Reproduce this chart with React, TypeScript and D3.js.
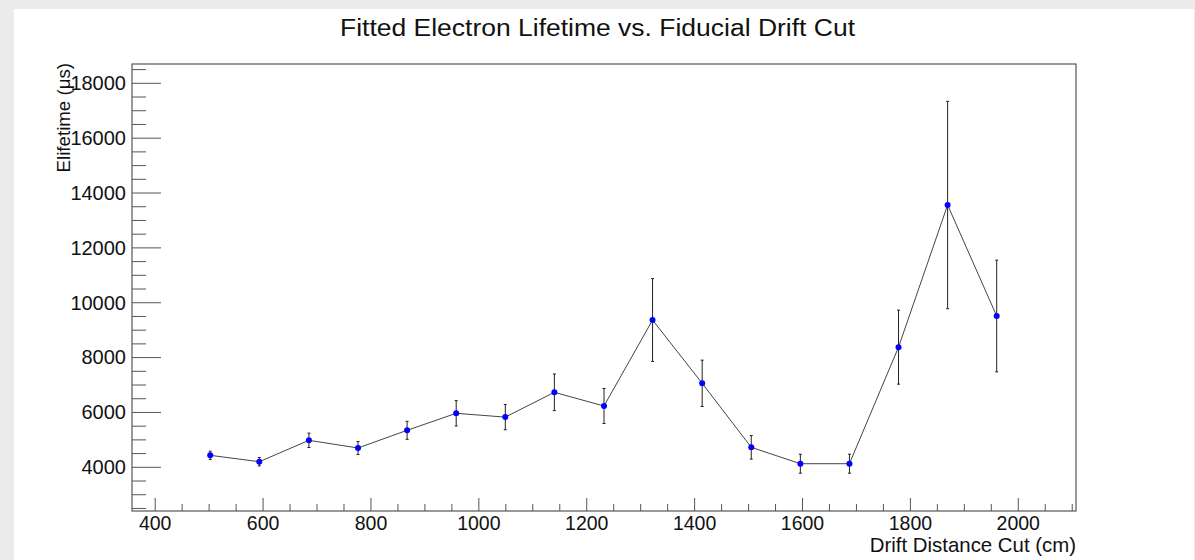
import React from "react";
import * as d3 from "d3";

// Drift distance cut (cm), fitted lifetime (us) and its fit uncertainty
const cuts = [502, 593, 685, 776, 867, 958, 1049, 1140, 1232, 1322, 1414, 1505, 1596, 1687, 1778, 1869, 1960];
const lifetimes = [4437, 4204, 4984, 4704, 5349, 5969, 5830, 6734, 6235, 9370, 7062, 4729, 4131, 4131, 8380, 13563, 9516];
const errors = [150, 153, 262, 237, 328, 462, 460, 668, 638, 1510, 845, 430, 346, 346, 1349, 3780, 2036];

const xMajorTicks = [400, 600, 800, 1000, 1200, 1400, 1600, 1800, 2000];
const yMajorTicks = [4000, 6000, 8000, 10000, 12000, 14000, 16000, 18000];

const title = "Fitted Electron Lifetime vs. Fiducial Drift Cut";
const xTitle = "Drift Distance Cut (cm)";
const yTitle = "Elifetime (\u03bcs)";

const W = 1195;
const H = 560;
const frame = { left: 132, right: 1076, top: 64, bottom: 511 };
const FONT = "'Liberation Sans', Arial, Helvetica, sans-serif";
const AXIS = "#555";

export default function App() {
  const x = d3.scaleLinear().domain([357, 2107]).range([frame.left, frame.right]);
  const y = d3.scaleLinear().domain([2407, 18704]).range([frame.bottom, frame.top]);

  const xMinor = d3.range(400, 2107, 50).filter((v) => !xMajorTicks.includes(v));
  const yMinor = d3.range(2500, 18704, 500).filter((v) => !yMajorTicks.includes(v));

  const points = cuts.map((c, i) => ({ c, v: lifetimes[i], e: errors[i] }));
  const line = d3
    .line<{ c: number; v: number }>()
    .x((d) => x(d.c))
    .y((d) => y(d.v));

  return (
    <svg
      width={W}
      height={H}
      style={{ position: "fixed", left: 0, top: 0, display: "block" }}
      fontFamily={FONT}
    >
      <rect x={0} y={0} width={W} height={H} fill="#ebebeb" />
      <rect x={14} y={9} width={1180} height={H - 9} fill="#ffffff" />

      <text
        x={340}
        y={36}
        fontSize={23}
        fill="#111"
        textLength={515}
        lengthAdjust="spacingAndGlyphs"
      >
        {title}
      </text>

      {/* frame */}
      <rect
        x={frame.left}
        y={frame.top}
        width={frame.right - frame.left}
        height={frame.bottom - frame.top}
        fill="none"
        stroke={AXIS}
        strokeWidth={1.2}
      />

      {/* y axis ticks */}
      {yMajorTicks.map((t) => (
        <g key={"ym" + t}>
          <line x1={frame.left} x2={frame.left + 29} y1={y(t)} y2={y(t)} stroke={AXIS} strokeWidth={1} />
          <text x={126} y={y(t) + 6.8} textAnchor="end" fontSize={20} fill="#111">
            {t}
          </text>
        </g>
      ))}
      {yMinor.map((t) => (
        <line key={"yn" + t} x1={frame.left} x2={frame.left + 14} y1={y(t)} y2={y(t)} stroke={AXIS} strokeWidth={1} />
      ))}

      {/* x axis ticks */}
      {xMajorTicks.map((t) => (
        <g key={"xm" + t}>
          <line x1={x(t)} x2={x(t)} y1={frame.bottom} y2={frame.bottom - 13} stroke={AXIS} strokeWidth={1} />
          <text x={x(t)} y={529.5} textAnchor="middle" fontSize={19.5} fill="#111">
            {t}
          </text>
        </g>
      ))}
      {xMinor.map((t) => (
        <line key={"xn" + t} x1={x(t)} x2={x(t)} y1={frame.bottom} y2={frame.bottom - 7} stroke={AXIS} strokeWidth={1} />
      ))}

      <text x={frame.right} y={552} textAnchor="end" fontSize={20.4} fill="#111">
        {xTitle}
      </text>
      <text
        transform={`translate(70, 63) rotate(-90)`}
        textAnchor="end"
        fontSize={18.7}
        fill="#111"
      >
        {yTitle}
      </text>

      {/* connecting line */}
      <path d={line(points) || ""} fill="none" stroke="#444" strokeWidth={1} />

      {/* error bars */}
      {points.map((p, i) => (
        <g key={"e" + i} stroke="#222" strokeWidth={1}>
          <line x1={x(p.c)} x2={x(p.c)} y1={y(p.v - p.e)} y2={y(p.v + p.e)} />
          <line x1={x(p.c) - 1.5} x2={x(p.c) + 1.5} y1={y(p.v - p.e)} y2={y(p.v - p.e)} />
          <line x1={x(p.c) - 1.5} x2={x(p.c) + 1.5} y1={y(p.v + p.e)} y2={y(p.v + p.e)} />
        </g>
      ))}

      {/* markers */}
      {points.map((p, i) => (
        <circle key={"m" + i} cx={x(p.c)} cy={y(p.v)} r={3} fill="#0000ff" />
      ))}
    </svg>
  );
}
